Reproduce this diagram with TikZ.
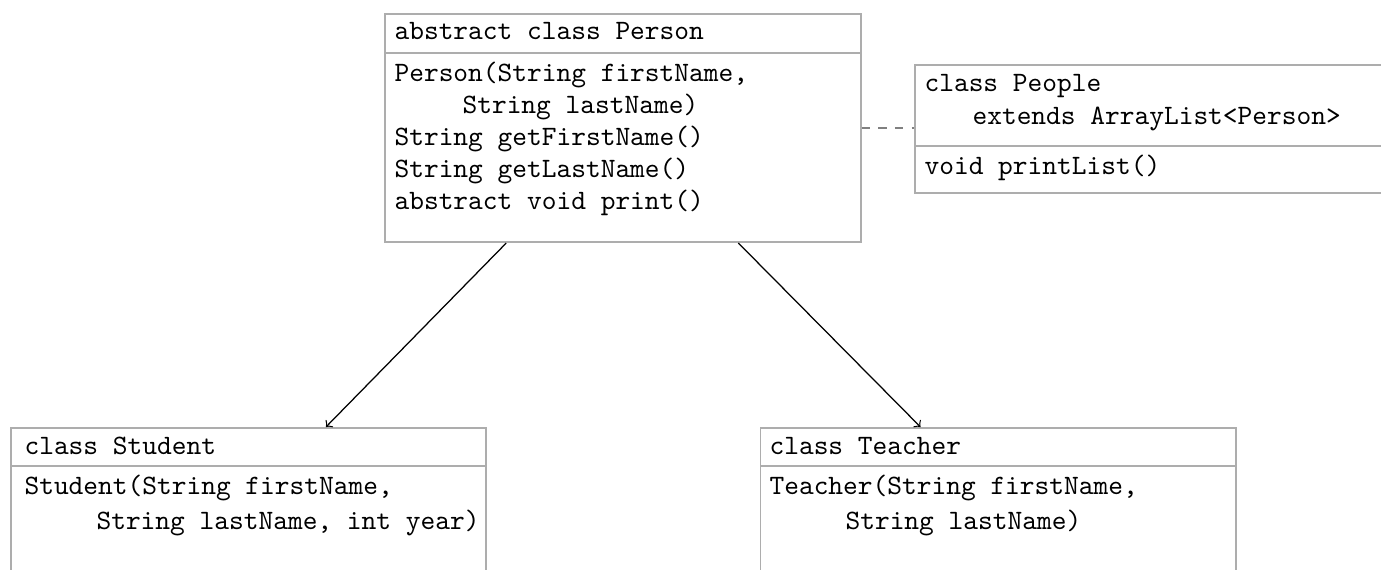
\documentclass[tikz,border=0pt]{standalone}
\usetikzlibrary{calc}
\begin{document}
\begin{tikzpicture}[x=0.36pt,y=-0.36pt,
  umlbox/.style={draw=black!32, line width=0.55pt, rectangle, inner sep=0pt, anchor=north west},
  txt/.style={font=\fontsize{10.1}{12}\selectfont\ttfamily, inner sep=0pt, anchor=base west},
  inherit/.style={-to, line width=0.45pt, black},
  assoc/.style={dashed, draw=black!50, line width=0.55pt}]
\useasboundingbox (0,0) rectangle (1381,570);
\clip (0,0) rectangle (1381,570);

% Person
\node[umlbox, minimum width={476*0.36pt}, minimum height={39*0.36pt}] (personHead) at (384,13) {};
\node[umlbox, minimum width={476*0.36pt}, minimum height={189.5*0.36pt}] (personBody) at (384,52) {};
\node[txt] (pH) at (394,40) {abstract class Person};
\node[txt] (p1) at (394,82) {Person(String firstName,};
\node[txt] (p2) at (462,114) {String lastName)};
\node[txt] (p3) at (394,146) {String getFirstName()};
\node[txt] (p4) at (394,178) {String getLastName()};
\node[txt] (p5) at (394,210) {abstract void print()};

% People
\node[umlbox, minimum width={500*0.36pt}, minimum height={81*0.36pt}] (peopleHead) at (914,64) {};
\node[umlbox, minimum width={500*0.36pt}, minimum height={47*0.36pt}] (peopleBody) at (914,145) {};
\node[txt] (qH1) at (924,92) {class People};
\node[txt] (qH2) at (972,125) {extends ArrayList<Person>};
\node[txt] (q1) at (924,175) {void printList()};

% Student
\node[umlbox, minimum width={475*0.36pt}, minimum height={38*0.36pt}] (studentHead) at (10,427) {};
\node[umlbox, minimum width={475*0.36pt}, minimum height={140*0.36pt}] (studentBody) at (10,465) {};
\node[txt] (sH) at (24,455) {class Student};
\node[txt] (s1) at (24,495) {Student(String firstName,};
\node[txt] (s2) at (96,530) {String lastName, int year)};

% Teacher
\node[umlbox, minimum width={475.5*0.36pt}, minimum height={38*0.36pt}] (teacherHead) at (759.5,427) {};
\node[umlbox, minimum width={475.5*0.36pt}, minimum height={140*0.36pt}] (teacherBody) at (759.5,465) {};
\node[txt] (tH) at (769,455) {class Teacher};
\node[txt] (t1) at (769,495) {Teacher(String firstName,};
\node[txt] (t2) at (845,530) {String lastName)};

% connectors
\draw[inherit] ($(personBody.south west)!0.256!(personBody.south east)$) -- ($(studentHead.north west)!0.663!(studentHead.north east)$);
\draw[inherit] ($(personBody.south west)!0.742!(personBody.south east)$) -- ($(teacherHead.north west)!0.3375!(teacherHead.north east)$);
\draw[assoc] (personBody.east |- 0,128) -- (peopleHead.west |- 0,128);
\end{tikzpicture}
\end{document}
